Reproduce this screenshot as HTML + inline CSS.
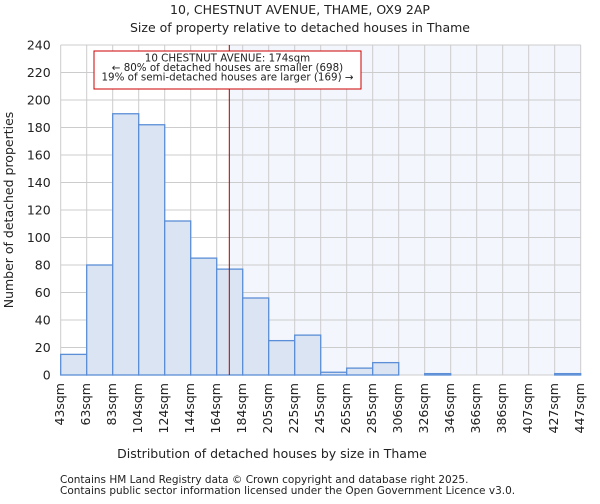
<!DOCTYPE html>
<html><head><meta charset="utf-8"><style>
body{margin:0;background:#fff;font-family:"DejaVu Sans","Liberation Sans",sans-serif;}
svg text{font-family:"DejaVu Sans","Liberation Sans",sans-serif;fill:#222;}
</style></head><body>
<svg id="chart" width="600" height="500">
<text x="300" y="14" text-anchor="middle" font-size="12.5">10, CHESTNUT AVENUE, THAME, OX9 2AP</text>
<text x="300" y="32" text-anchor="middle" font-size="12.5">Size of property relative to detached houses in Thame</text>
<g id="plot"></g>
<text x="272" y="458" text-anchor="middle" font-size="12.5">Distribution of detached houses by size in Thame</text>
<text transform="translate(13,210) rotate(-90)" text-anchor="middle" font-size="12.5">Number of detached properties</text>
<text x="60" y="483" font-size="10.5" fill="#444">Contains HM Land Registry data © Crown copyright and database right 2025.</text>
<text x="60" y="494" font-size="10.5" fill="#444">Contains public sector information licensed under the Open Government Licence v3.0.</text>
</svg>
<script>
const categories=["43sqm","63sqm","83sqm","104sqm","124sqm","144sqm","164sqm","184sqm","205sqm","225sqm","245sqm","265sqm","285sqm","306sqm","326sqm","346sqm","366sqm","386sqm","407sqm","427sqm","447sqm"];
const counts=[15,80,190,182,112,85,77,56,25,29,2,5,9,0,1,0,0,0,0,1];
const yTicks=[0,20,40,60,80,100,120,140,160,180,200,220,240];
const binStart=43, binWidth=20.2, propertySize=174;
const X0=60.7,X1=580.7,Y0=375,Y1=45,YMAX=240;
const nb=counts.length;
const xs=v=>X0+(v-binStart)/(binWidth*nb)*(X1-X0);
const xi=i=>X0+i*(X1-X0)/nb;
const ys=v=>Y0-v/YMAX*(Y0-Y1);
const NS="http://www.w3.org/2000/svg";
const g=document.getElementById('plot');
function mk(t,a){const e=document.createElementNS(NS,t);for(const k in a)e.setAttribute(k,a[k]);g.appendChild(e);return e;}
const lx=xs(propertySize);
let e=mk('rect',{x:lx,y:Y1,width:X1-lx,height:Y0-Y1,fill:'#f3f6fd'});


for(const t of yTicks){
 e=mk('line',{x1:X0,x2:X1,y1:ys(t),y2:ys(t),stroke:'#cccccc','stroke-width':1});
 
 
 e=mk('text',{x:X0-10,y:ys(t)+4.5,'text-anchor':'end','font-size':12.5});
 e.textContent=t;
 
 
}
for(let i=0;i<=nb;i++){
 e=mk('line',{x1:xi(i),x2:xi(i),y1:Y1,y2:Y0,stroke:'#cccccc','stroke-width':1});
 
 
}
counts.forEach((c,i)=>{
 e=mk('rect',{x:xi(i),y:ys(c),width:xi(i+1)-xi(i),height:Y0-ys(c),fill:'#dae4f3',stroke:'#5b8ed6','stroke-width':1.3});
 
 
});
categories.forEach((c,i)=>{
 const x=xi(i)+3.5;
 e=mk('text',{x:x,y:383,'text-anchor':'end','font-size':12.5,transform:`rotate(-90 ${x} 383)`});
 e.textContent=c;
 
 
});
e=mk('line',{x1:lx,x2:lx,y1:Y1,y2:Y0,stroke:'#b00000','stroke-width':1});


e=mk('rect',{x:94,y:51,width:267,height:38,fill:'#fff',stroke:'#cc0000','stroke-width':1});


["10 CHESTNUT AVENUE: 174sqm","← 80% of detached houses are smaller (698)","19% of semi-detached houses are larger (169) →"].forEach((s,i)=>{
 e=mk('text',{x:227.5,y:61.5+i*9.6,'text-anchor':'middle','font-size':10.3});
 e.textContent=s;
 
 
});
</script>
</body></html>
